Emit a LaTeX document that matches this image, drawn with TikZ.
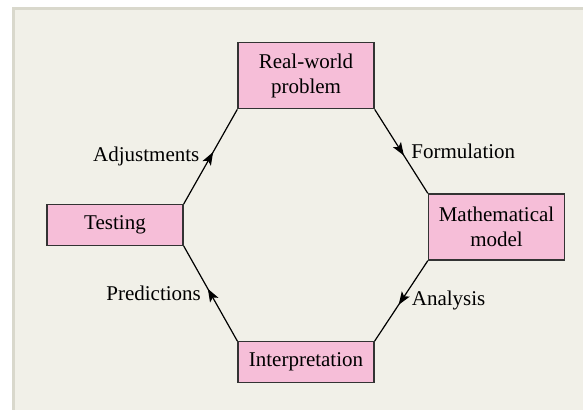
\documentclass[tikz,border=0pt]{standalone}
\usepackage{fontspec}
\setmainfont{Liberation Serif}
\usetikzlibrary{arrows.meta,decorations.markings}
\definecolor{panelfill}{HTML}{F1F0E8}
\definecolor{panelrule}{HTML}{D9D8CC}
\definecolor{boxpink}{HTML}{F6BED8}

\begin{document}
\begin{tikzpicture}[
  x=1pt, y=1pt,
  box/.style={draw=black!80, fill=boxpink, line width=1.4pt, align=center,
              minimum width=136pt, inner sep=0pt, font=\fontsize{21}{25}\selectfont},
  lbl/.style={font=\fontsize{21}{25}\selectfont, inner sep=0pt},
  flow/.style={line width=1.2pt, postaction={decorate},
               decoration={markings, mark=at position 0.55 with {\arrow{Stealth[length=13pt,width=9.5pt,inset=3pt]}}}}
]
  % background panel
  \fill[white] (0,0) rectangle (583,410);
  \fill[panelrule] (12,0) rectangle (583,403);
  \fill[panelfill] (15,0) rectangle (583,400);
  \useasboundingbox (0,0) rectangle (583,410);

  \node[box, minimum height=66pt] (problem) at (306,334.3) {Real-world\\problem};
  \node[box, minimum height=66pt] (model) at (496.5,183) {Mathematical\\model};
  \node[box, minimum height=40.6pt] (interp) at (306,48) {Interpretation};
  \node[box, minimum height=40.6pt] (testing) at (115,185) {Testing};

  \draw[flow] (problem.south east) -- (model.north west)
    node[lbl, pos=0.5, right=9.5pt] (formulation) {Formulation};
  \draw[flow] (model.south west) -- (interp.north east)
    node[lbl, pos=0.5, right=10pt] (analysis) {Analysis};
  \draw[flow] (interp.north west) -- (testing.south east)
    node[lbl, pos=0.5, left=9pt] (predictions) {Predictions};
  \draw[flow] (testing.north east) -- (problem.south west)
    node[lbl, pos=0.5, left=10.5pt] (adjustments) {Adjustments};
\end{tikzpicture}
\end{document}
